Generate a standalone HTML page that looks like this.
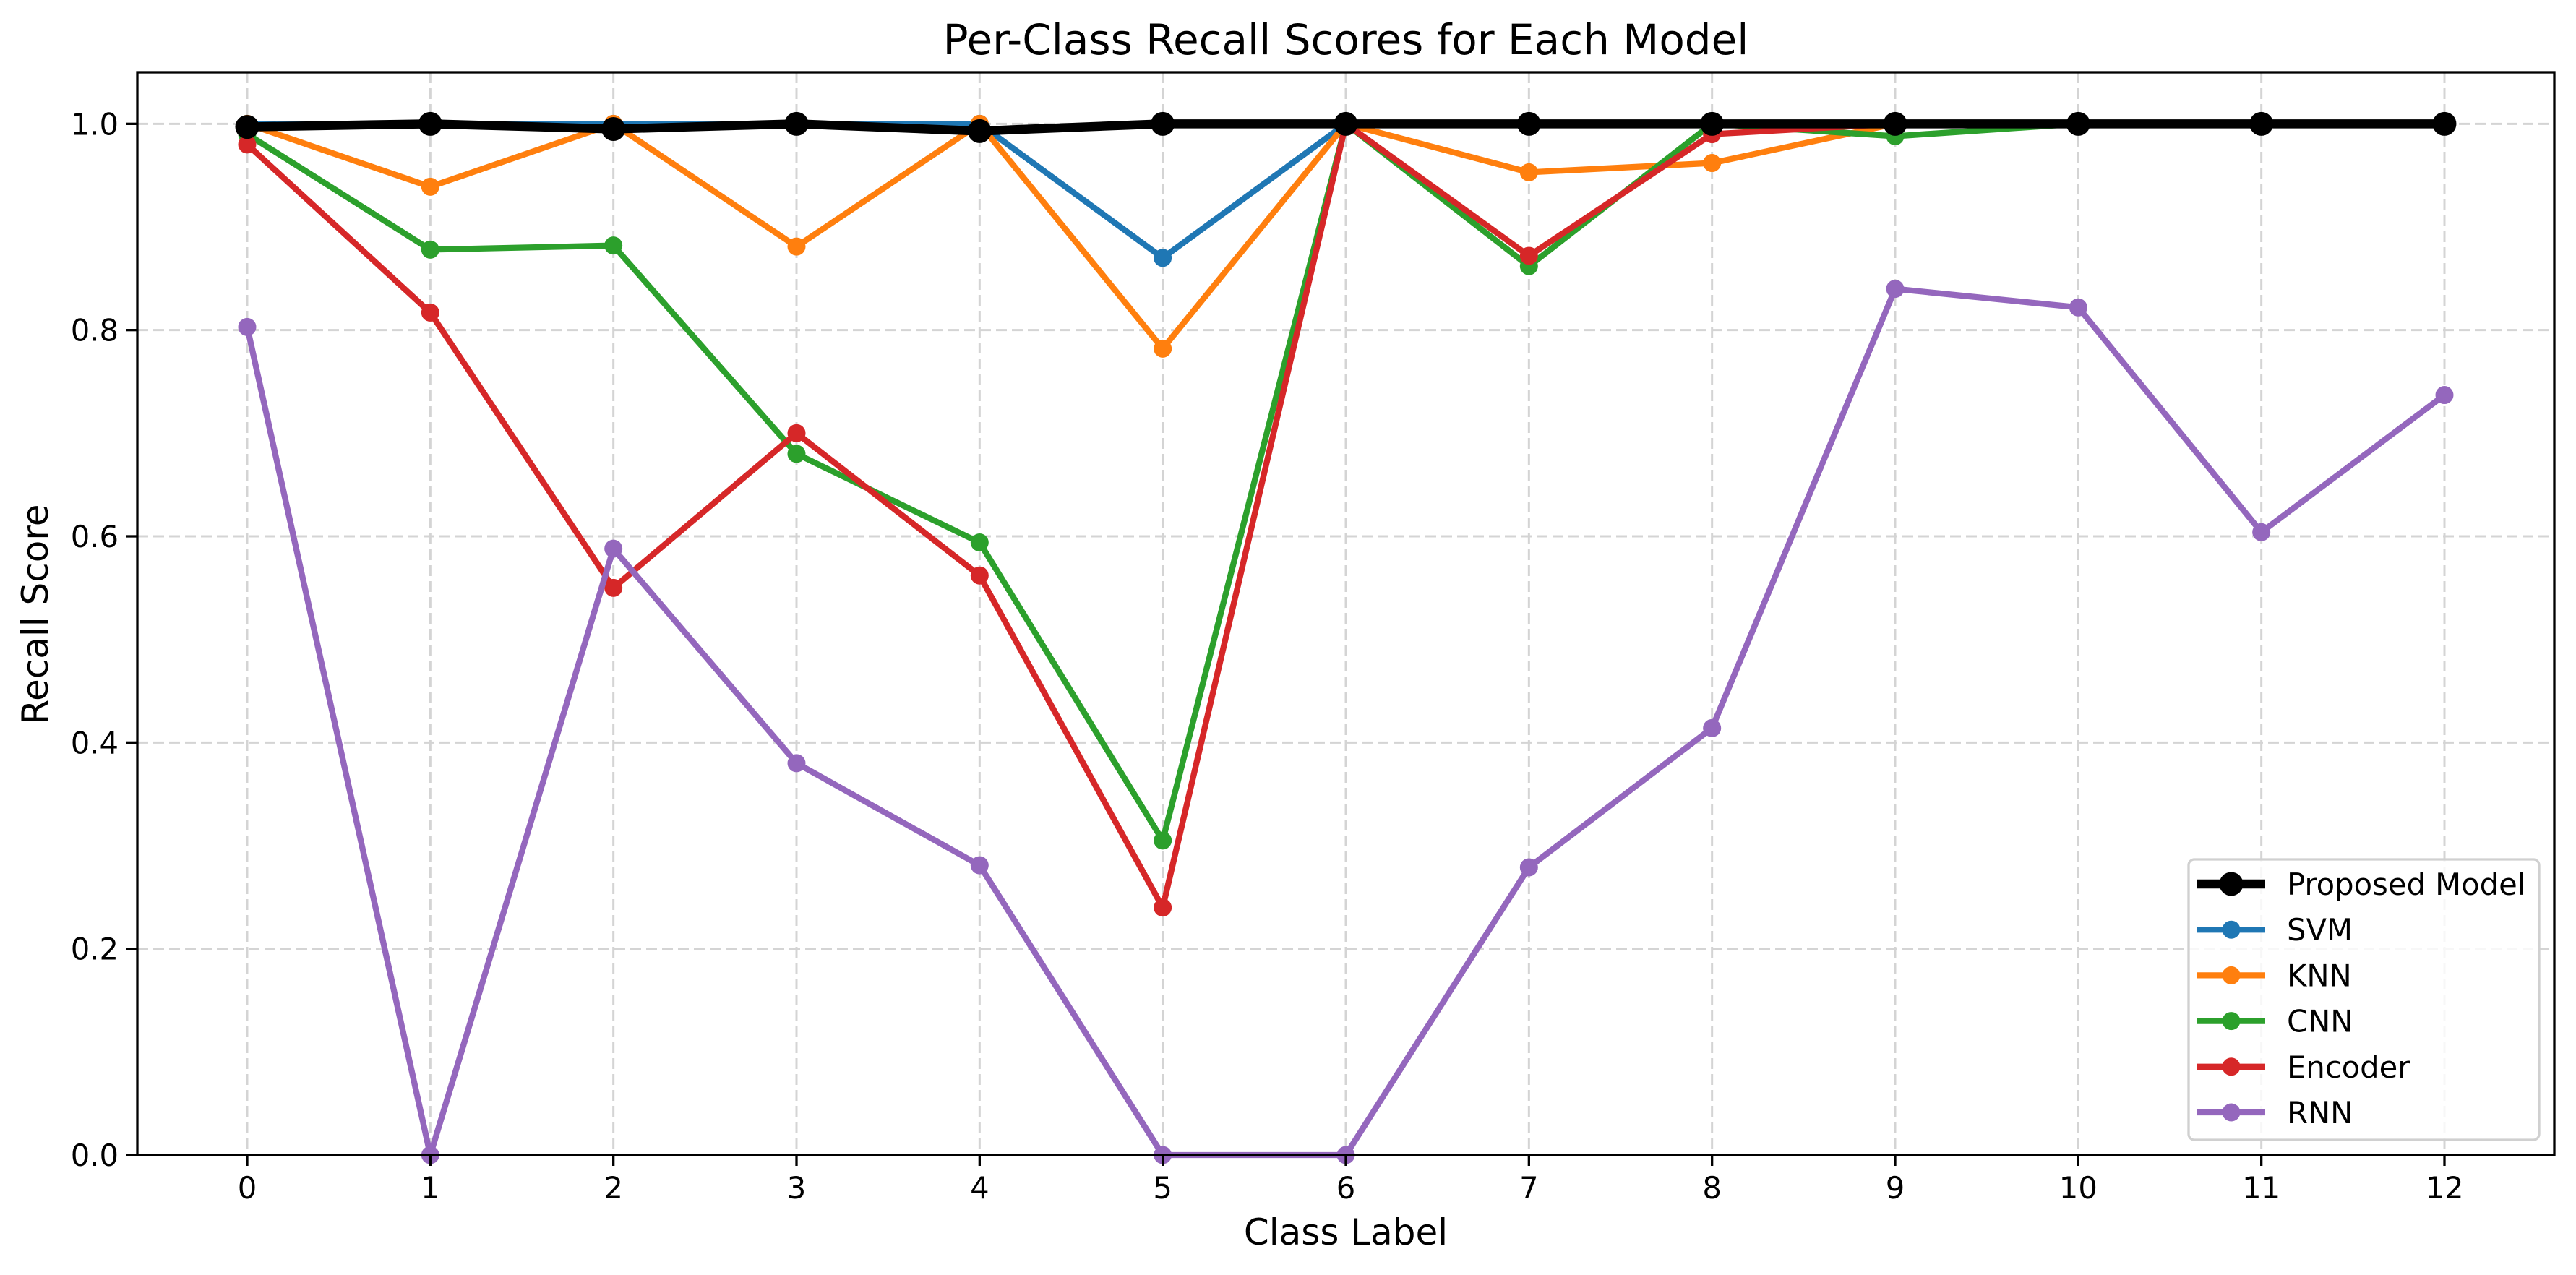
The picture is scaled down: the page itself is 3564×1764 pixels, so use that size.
<!DOCTYPE html>
<html><head><meta charset="utf-8"><style>
html,body{margin:0;padding:0;background:#fff}
svg{display:block;font-family:"DejaVu Sans","Liberation Sans",sans-serif}
</style></head><body>
<svg id="chart" width="3564" height="1764" viewBox="0 0 3564 1764">
<rect width="3564" height="1764" fill="#fff"/>
<g id="grid"></g>
<g id="series"></g>
<rect x="190" y="100" width="3344" height="1498" fill="none" stroke="#000" stroke-width="3.3"/>
<g id="ticks"></g>
<text x="1862" y="75" font-size="58" text-anchor="middle">Per-Class Recall Scores for Each Model</text>
<text x="1862" y="1722" font-size="50" text-anchor="middle">Class Label</text>
<text transform="translate(66,850) rotate(-90)" font-size="50" text-anchor="middle">Recall Score</text>
<g id="legend"></g>
</svg>
<script>
const categories = [0,1,2,3,4,5,6,7,8,9,10,11,12];
const yTicks = [0.0,0.2,0.4,0.6,0.8,1.0];
const yTickLabels = ["0.0","0.2","0.4","0.6","0.8","1.0"];
const seriesNames = ["SVM","KNN","CNN","Encoder","RNN","Proposed Model"];
const seriesColors = ["#1f77b4","#ff7f0e","#2ca02c","#d62728","#9467bd","#000000"];
const svmValues = [1.0,1.0,1.0,1.0,1.0,0.87,1.0,1.0,1.0,1.0,1.0,1.0,1.0];
const knnValues = [1.0,0.939,1.0,0.881,1.0,0.782,1.0,0.953,0.962,1.0,1.0,1.0,1.0];
const cnnValues = [0.99,0.878,0.882,0.68,0.594,0.305,1.0,0.862,1.0,0.988,1.0,1.0,1.0];
const encoderValues = [0.98,0.817,0.55,0.70,0.562,0.24,1.0,0.872,0.99,1.0,1.0,1.0,1.0];
const rnnValues = [0.803,0.0,0.588,0.38,0.281,0.0,0.0,0.279,0.414,0.84,0.822,0.604,0.737];
const proposedValues = [0.997,1.0,0.995,1.0,0.993,1.0,1.0,1.0,1.0,1.0,1.0,1.0,1.0];
const allValues = [svmValues,knnValues,cnnValues,encoderValues,rnnValues,proposedValues];

const NS="http://www.w3.org/2000/svg";
const L=190,R=3534,T=100,B=1598;
const xMin=-0.6,xMax=12.6,yMin=0,yMax=1.05;
const xs=v=>L+(v-xMin)/(xMax-xMin)*(R-L);
const ys=v=>B-(v-yMin)/(yMax-yMin)*(B-T);
function mk(tag,attrs,parent){const e=document.createElementNS(NS,tag);for(const k in attrs)e.setAttribute(k,attrs[k]);parent.appendChild(e);return e;}
const grid=document.getElementById('grid'),ticks=document.getElementById('ticks'),ser=document.getElementById('series'),leg=document.getElementById('legend');
categories.forEach(c=>{
  const x=xs(c);
  const g=mk('line',{x1:x,x2:x,y1:T,y2:B,stroke:'#d4d4d4','stroke-width':3,'stroke-dasharray':'15,7'},grid);
  
  
  const t=mk('line',{x1:x,x2:x,y1:B,y2:B+15,stroke:'#000','stroke-width':3.3},ticks);
  
  
  const lb=mk('text',{x:x,y:B+60,'font-size':41.7,'text-anchor':'middle'},ticks);
  lb.textContent=String(c);
  
  
});
yTicks.forEach((v,i)=>{
  const y=ys(v);
  const g=mk('line',{x1:L,x2:R,y1:y,y2:y,stroke:'#d4d4d4','stroke-width':3,'stroke-dasharray':'15,7'},grid);
  
  
  const t=mk('line',{x1:L-15,x2:L,y1:y,y2:y,stroke:'#000','stroke-width':3.3},ticks);
  
  
  const lb=mk('text',{x:L-26,y:y+15,'font-size':41.7,'text-anchor':'end'},ticks);
  lb.textContent=yTickLabels[i];
  
  
});
allValues.forEach((vals,si)=>{
  const prop=si===5;
  const g=mk('g',{},ser);
  
  
  const pts=vals.map((v,i)=>xs(categories[i])+','+ys(v)).join(' ');
  mk('polyline',{points:pts,fill:'none',stroke:seriesColors[si],'stroke-width':prop?12.5:8.3,'stroke-linejoin':'round'},g);
  vals.forEach((v,i)=>{
    const c=mk('circle',{cx:xs(categories[i]),cy:ys(v),r:prop?16.5:12.5,fill:seriesColors[si]},g);
    
    
  });
});
const lb=mk('rect',{x:3028,y:1189,width:485,height:388,rx:8,fill:'#fff','fill-opacity':0.8,stroke:'#d0d0d0','stroke-width':3.3},leg);


const order=[5,0,1,2,3,4];
order.forEach((si,k)=>{
  const y=1223+k*63.2;
  const prop=si===5;
  const g=mk('g',{},leg);
  
  
  mk('line',{x1:3040,x2:3134,y1:y,y2:y,stroke:seriesColors[si],'stroke-width':prop?12.5:8.3},g);
  mk('circle',{cx:3087,cy:y,r:prop?16.5:12.5,fill:seriesColors[si]},g);
  const t=mk('text',{x:3164,y:y+15,'font-size':41.7},g);
  t.textContent=seriesNames[si];
});
</script>
</body></html>
